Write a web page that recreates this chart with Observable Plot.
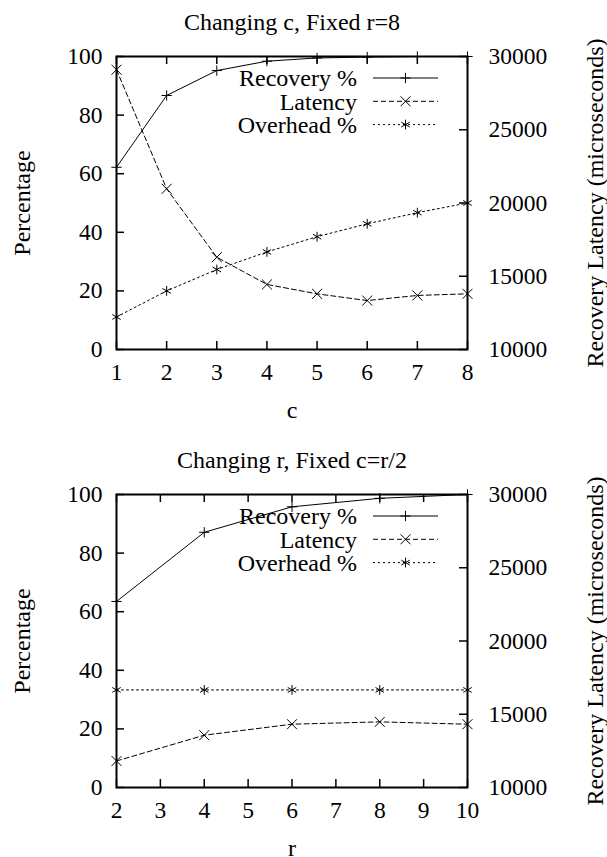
<!DOCTYPE html>
<html>
<head>
<meta charset="utf-8">
<script src="https://cdn.jsdelivr.net/npm/d3@7"></script>
<script src="https://cdn.jsdelivr.net/npm/@observablehq/plot@0.6"></script>
<style>
  body { margin: 0; background: #fff; }
  #charts { width: 607px; }
  #charts svg { display: block; }
</style>
</head>
<body>
<div id="charts"></div>
<script>
// Panel 1: varying c with r fixed at 8
const cValues   = [1, 2, 3, 4, 5, 6, 7, 8];
const cRecovery = [62.2, 86.7, 95.2, 98.4, 99.5, 99.8, 100, 100];
const cLatency  = [29100, 20970, 16300, 14440, 13800, 13340, 13690, 13800];
const cOverhead = [11.1, 20.0, 27.3, 33.3, 38.5, 42.9, 46.7, 50.0];

// Panel 2: varying r with c = r/2
const rValues   = [2, 4, 6, 8, 10];
const rRecovery = [63.5, 87.1, 95.8, 98.7, 100];
const rLatency  = [11810, 13570, 14320, 14480, 14320];
const rOverhead = [33.3, 33.3, 33.3, 33.3, 33.3];

// Axis ticks
const percentTicks = [0, 20, 40, 60, 80, 100];
const latencyTicks = [10000, 15000, 20000, 25000, 30000];
const cTicks = [1, 2, 3, 4, 5, 6, 7, 8];
const rTicks = [2, 3, 4, 5, 6, 7, 8, 9, 10];
const latencyRange = [10000, 30000];

const seriesNames = ["Recovery %", "Latency", "Overhead %"];

// Latency lives on the right-hand axis; map it onto the shared 0–100 y scale.
const toPct = v => (v - latencyRange[0]) / (latencyRange[1] - latencyRange[0]) * 100;
const fromPct = p => latencyRange[0] + p / 100 * (latencyRange[1] - latencyRange[0]);

const FONT = "'Liberation Serif', 'Times New Roman', serif";
const LABEL_SIZE = 24;
const TICK_SIZE = 23.5;
const styleSeries = {
  "Recovery %": {dash: null, plotSymbol: "plus", symbol: d3.symbolPlus, r: 3.4},
  "Latency": {dash: "5,3", plotSymbol: "times", symbol: d3.symbolTimes, r: 4.6},
  "Overhead %": {dash: "2,3", plotSymbol: "asterisk", symbol: d3.symbolAsterisk, r: 4.6}
};

// Key drawn inside the frame, top right
function legendMark(index, scales, values, dims) {
  const g = d3.create("svg:g")
    .attr("font-family", FONT)
    .attr("font-size", LABEL_SIZE)
    .attr("fill", "black");
  const right = dims.width - dims.marginRight;
  seriesNames.forEach((name, i) => {
    const s = styleSeries[name];
    const y = dims.marginTop + 22 + i * 23.3;
    g.append("text")
      .attr("x", right - 110).attr("y", y)
      .attr("dy", "0.35em")
      .attr("text-anchor", "end")
      .text(name);
    g.append("line")
      .attr("x1", right - 94).attr("x2", right - 29)
      .attr("y1", y).attr("y2", y)
      .attr("stroke", "black").attr("stroke-width", 1)
      .attr("stroke-dasharray", s.dash);
    g.append("path")
      .attr("transform", `translate(${right - 61.5},${y})`)
      .attr("d", d3.symbol(s.symbol, s.r * s.r * Math.PI)())
      .attr("fill", "none").attr("stroke", "black").attr("stroke-width", 1);
  });
  return g.node();
}

function panel({title, xLabel, xs, xTicks, recovery, latency, overhead, height}) {
  const width = 607, marginLeft = 116, marginRight = 140, marginTop = 56, plotH = 293;
  const marginBottom = height - marginTop - plotH;
  const plotW = width - marginLeft - marginRight;
  const tick = 8;
  const rows = xs.map((x, i) => ({
    x,
    recovery: recovery[i],
    latency: toPct(latency[i]),
    overhead: overhead[i]
  }));
  const seriesMarks = [
    ["recovery", "Recovery %"],
    ["latency", "Latency"],
    ["overhead", "Overhead %"]
  ].flatMap(([key, name]) => [
    Plot.line(rows, {x: "x", y: key, stroke: "black", strokeWidth: 1,
      strokeDasharray: styleSeries[name].dash || undefined}),
    Plot.dot(rows, {x: "x", y: key, symbol: styleSeries[name].plotSymbol, r: styleSeries[name].r,
      stroke: "black", strokeWidth: 1, fill: "none"})
  ]);

  return Plot.plot({
    width, height, marginLeft, marginRight, marginTop, marginBottom,
    x: {domain: d3.extent(xs), axis: null},
    y: {domain: [0, 100], axis: null},
    style: {fontFamily: FONT, fontSize: `${TICK_SIZE}px`, background: "white", color: "black"},
    marks: [
      // inward tick marks: bottom, mirrored top, left (percentage), right (latency)
      Plot.ruleX(xTicks, {insetTop: plotH - tick, stroke: "black", strokeWidth: 1.5}),
      Plot.ruleX(xTicks, {insetBottom: plotH - tick, stroke: "black", strokeWidth: 1.5}),
      Plot.ruleY(percentTicks, {insetRight: plotW - tick, stroke: "black", strokeWidth: 1.5}),
      Plot.ruleY(latencyTicks.map(toPct), {insetLeft: plotW - tick, stroke: "black", strokeWidth: 1.5}),
      Plot.axisX(xTicks, {anchor: "bottom", tickSize: 0, tickPadding: 14, label: null,
        fontSize: TICK_SIZE, tickFormat: d => String(d)}),
      Plot.axisY(percentTicks, {anchor: "left", tickSize: 0, tickPadding: 14, label: null,
        fontSize: TICK_SIZE, tickFormat: d => String(d)}),
      Plot.axisY(latencyTicks.map(toPct), {anchor: "right", tickSize: 0, tickPadding: 21, label: null,
        fontSize: TICK_SIZE, tickFormat: d => String(Math.round(fromPct(d)))}),
      ...seriesMarks,
      Plot.frame({stroke: "black", strokeWidth: 2}),
      Plot.text([title], {frameAnchor: "top", lineAnchor: "middle", dy: -34, fontSize: LABEL_SIZE}),
      Plot.text([xLabel], {frameAnchor: "bottom", lineAnchor: "middle", dy: 61, fontSize: LABEL_SIZE}),
      Plot.text(["Percentage"], {frameAnchor: "left", textAnchor: "middle", lineAnchor: "middle",
        dx: -94, rotate: -90, fontSize: LABEL_SIZE}),
      Plot.text(["Recovery Latency (microseconds)"], {frameAnchor: "right", textAnchor: "middle",
        lineAnchor: "middle", dx: 128, rotate: -90, fontSize: LABEL_SIZE}),
      legendMark
    ]
  });
}

const host = document.getElementById("charts");
host.append(panel({
  title: "Changing c, Fixed r=8", xLabel: "c",
  xs: cValues, xTicks: cTicks,
  recovery: cRecovery, latency: cLatency, overhead: cOverhead,
  height: 438
}));
host.append(panel({
  title: "Changing r, Fixed c=r/2", xLabel: "r",
  xs: rValues, xTicks: rTicks,
  recovery: rRecovery, latency: rLatency, overhead: rOverhead,
  height: 419
}));
</script>
</body>
</html>
